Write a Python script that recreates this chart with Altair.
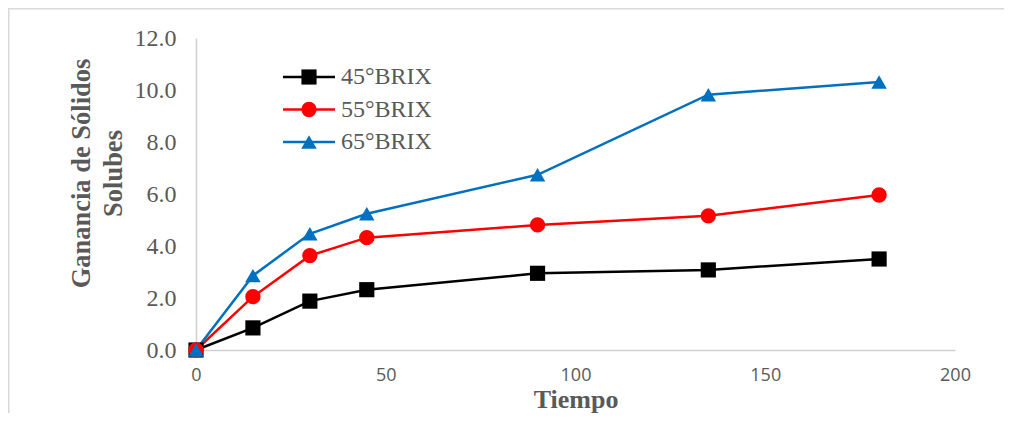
import altair as alt
import pandas as pd

tiempo = [0, 15, 30, 45, 90, 135, 180]
series = ["45°BRIX", "55°BRIX", "65°BRIX"]
brix45 = [0.0, 0.85, 1.88, 2.32, 2.95, 3.08, 3.50]
brix55 = [0.0, 2.05, 3.63, 4.32, 4.81, 5.16, 5.96]
brix65 = [0.0, 2.86, 4.47, 5.24, 6.74, 9.82, 10.31]
colors = ["#000000", "#ff0000", "#0070c0"]
shapes = ["square", "circle", "triangle-up"]
marker_sizes = [230, 240, 340]
y_ticks = [0, 2, 4, 6, 8, 10, 12]
x_ticks = [0, 50, 100, 150, 200]

rows = []
for name, vals in zip(series, [brix45, brix55, brix65]):
    for t, v in zip(tiempo, vals):
        rows.append({"tiempo": t, "valor": v, "serie": name})
df = pd.DataFrame(rows)
leg = pd.DataFrame({"serie": series})

W, H = 759, 312
GREY = "#595959"
SERIF = "Liberation Serif"

color = alt.Color("serie:N", scale=alt.Scale(domain=series, range=colors), legend=None)
shape = alt.Shape("serie:N", scale=alt.Scale(domain=series, range=shapes), legend=None)
size = alt.Size("serie:N", scale=alt.Scale(domain=series, range=marker_sizes), legend=None)

x = alt.X("tiempo:Q", scale=alt.Scale(domain=[0, 200], nice=False),
          axis=alt.Axis(values=x_ticks, title="Tiempo", grid=False, ticks=False,
                        domainColor="#d0d0d0", domainWidth=1.5,
                        labelFont="Open Sans", labelFontSize=18, labelColor=GREY,
                        labelPadding=16, labelFlush=False, labelOverlap=False,
                        titleFont=SERIF, titleFontSize=26, titleFontWeight="bold",
                        titleColor=GREY, titleX=W / 2, titleY=57.5,
                        titleBaseline="alphabetic"))
y = alt.Y("valor:Q", scale=alt.Scale(domain=[0, 12], nice=False),
          axis=alt.Axis(values=y_ticks, format=".1f", grid=False, ticks=False,
                        title=["Ganancia de Sólidos", "Solubes"],
                        domainColor="#d0d0d0", domainWidth=1.5,
                        labelFont=SERIF, labelFontSize=24, labelColor=GREY,
                        labelPadding=20,
                        titleFont=SERIF, titleFontSize=26.5, titleFontWeight="bold",
                        titleColor=GREY, titleAngle=270, titleX=-115, titleY=135,
                        titleAlign="center", titleBaseline="middle",
                        titleLineHeight=32))

base = alt.Chart(df)
lines = base.mark_line(strokeWidth=2.5).encode(x=x, y=y, color=color, detail="serie:N")
points = base.mark_point(filled=True, opacity=1).encode(
    x=x, y=y, color=color, shape=shape, size=size)

ly = alt.Y("serie:N", scale=alt.Scale(type="point", domain=series, range=[39, 104], padding=0),
           axis=None)
lbase = alt.Chart(leg)
lrule = lbase.mark_rule(strokeWidth=2.5).encode(
    x=alt.value(87), x2=alt.value(139), y=ly, color=color)
lpoint = lbase.mark_point(filled=True, opacity=1).encode(
    x=alt.value(113), y=ly, color=color, shape=shape, size=size)
ltext = lbase.mark_text(align="left", baseline="middle", font=SERIF, fontSize=24,
                        color=GREY).encode(x=alt.value(145), y=ly, text="serie:N")

border_top = alt.Chart(leg).mark_rule(color="#d9d9d9", strokeWidth=1.5).encode(
    x=alt.value(-187.5), x2=alt.value(808), y=alt.value(-29.5))
border_left = alt.Chart(leg).mark_rule(color="#d9d9d9", strokeWidth=1.5).encode(
    x=alt.value(-187.5), y=alt.value(-29.5), y2=alt.value(375))

main = alt.layer(lines, points)
legend = alt.layer(lrule, lpoint, ltext)

chart = alt.layer(border_top, border_left, main, legend).resolve_scale(
    y="independent"
).properties(
    width=W, height=H,
    autosize=alt.AutoSizeParams(type="none"),
    padding={"left": 188, "top": 30, "right": 49, "bottom": 63},
).configure_view(stroke=None)

chart.save("out.html", embed_options={"renderer": "svg", "actions": False})
